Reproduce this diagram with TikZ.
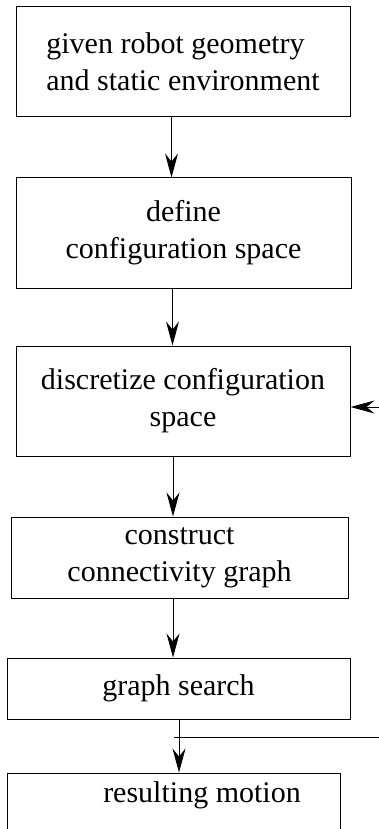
\documentclass[tikz,border=0pt]{standalone}
\usepackage{fontspec}
\setmainfont{Liberation Serif}
\usetikzlibrary{arrows.meta}

\tikzset{
  stepbox/.style={draw,rectangle,line width=1pt,inner sep=0pt,align=center,font=\fontsize{30}{37}\selectfont},
  flow/.style={line width=1pt,-{Stealth[length=24pt,width=13pt,inset=8pt]}}
}

\begin{document}
\begin{tikzpicture}[x=1pt,y=-1pt]
\useasboundingbox (0,0) rectangle (379,829);
\clip (0,0) rectangle (379,829);

% Steps
\node[stepbox,align=left,minimum width=334pt,minimum height=110pt] (given) at (183,62) {given robot geometry\\and static environment};
\node[stepbox,minimum width=335pt,minimum height=110pt] (define) at (183.5,233) {define\\configuration space};
\node[stepbox,minimum width=334pt,minimum height=110pt] (discretize) at (183,401) {discretize configuration\\space};
\node[stepbox,minimum width=337pt,minimum height=81pt] (construct) at (179.5,557.5) {construct\\connectivity graph};
\node[stepbox,minimum width=343pt,minimum height=61pt] (search) at (178.5,688.5) {graph search};
\node[stepbox,minimum width=333pt,minimum height=60pt] (motion) at (173.5,803) {};
\node[font=\fontsize{30}{37}\selectfont,inner sep=0pt] (motiontext) at (202,795) {resulting motion};

% Arrows
\draw[flow] ([xshift=-11.5pt]given.south) -- ([xshift=-11.5pt]given.south |- define.north);
\draw[flow] ([xshift=-11pt]define.south) -- ([xshift=-11pt]define.south |- discretize.north);
\draw[flow] ([xshift=-10pt]discretize.south) -- ([xshift=-10pt]discretize.south |- construct.north);
\draw[flow] ([xshift=-6.5pt]construct.south) -- ([xshift=-6.5pt]construct.south |- search.north);
\draw[flow] ([xshift=0.5pt]search.south) -- ([xshift=0.5pt]search.south |- motion.north);

% Feedback
\coordinate (fbout) at (379,737);
\coordinate (fbin) at (379,407);
\draw[line width=1pt] (fbout) -- ([xshift=0.5pt]fbout -| motion.north);
\draw[flow] (fbin) -- (fbin -| discretize.east);
\end{tikzpicture}
\end{document}
